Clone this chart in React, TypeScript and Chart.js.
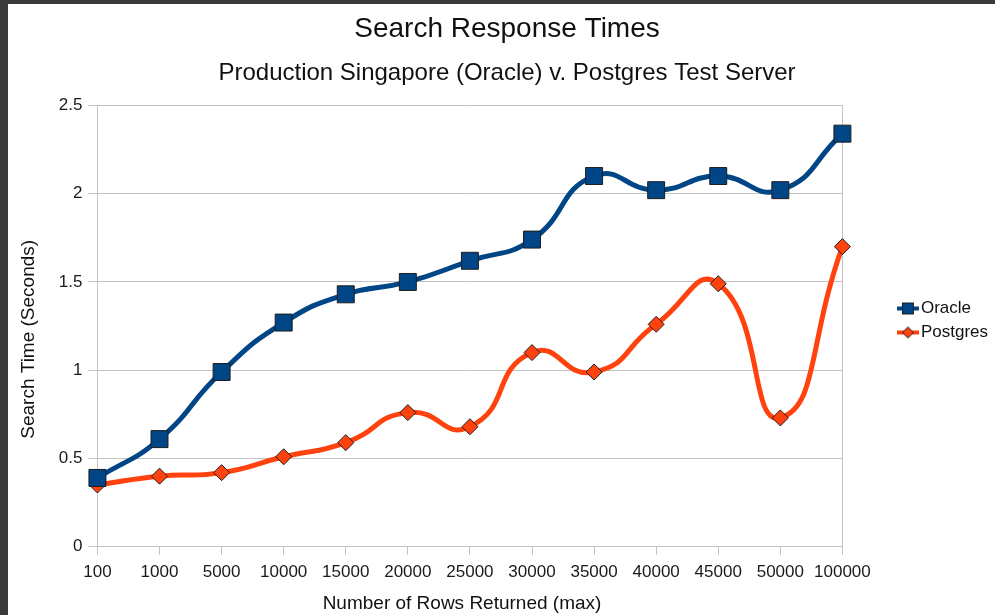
import React, { useEffect, useRef } from "react";
import { Chart, registerables } from "chart.js";

Chart.register(...registerables);

const categories = ["100", "1000", "5000", "10000", "15000", "20000", "25000", "30000", "35000", "40000", "45000", "50000", "100000"];
const oracleTimes = [0.39, 0.61, 0.99, 1.27, 1.43, 1.5, 1.62, 1.74, 2.1, 2.02, 2.1, 2.02, 2.34];
const postgresTimes = [0.35, 0.4, 0.42, 0.51, 0.59, 0.76, 0.68, 1.1, 0.99, 1.26, 1.49, 0.73, 1.7];
const seriesNames = ["Oracle", "Postgres"];
const yMin = 0;
const yMax = 2.5;
const yStep = 0.5;

const ORACLE = "#004586";
const POSTGRES = "#ff420e";
const MARKER_EDGE = "#1e1e1e";
const GRID = "#c3c3c3";
const FONT = "'Liberation Sans', Arial, sans-serif";

function makeIcon(color: string, kind: "square" | "diamond"): HTMLCanvasElement {
  const c = document.createElement("canvas");
  c.width = 22;
  c.height = 14;
  const g = c.getContext("2d")!;
  g.fillStyle = color;
  g.fillRect(0, 5, 22, 4);
  g.strokeStyle = MARKER_EDGE;
  g.lineWidth = 1;
  if (kind === "square") {
    g.fillRect(5.5, 1.5, 11, 11);
    g.strokeRect(5.5, 1.5, 11, 11);
  } else {
    g.beginPath();
    g.moveTo(11, 1.5);
    g.lineTo(16.5, 7);
    g.lineTo(11, 12.5);
    g.lineTo(5.5, 7);
    g.closePath();
    g.fill();
    g.stroke();
  }
  return c;
}

export default function App() {
  const ref = useRef<HTMLCanvasElement | null>(null);

  useEffect(() => {
    if (!ref.current) return;
    const icons = [makeIcon(ORACLE, "square"), makeIcon(POSTGRES, "diamond")];
    const chart = new Chart(ref.current, {
      type: "line",
      data: {
        labels: categories,
        datasets: [
          {
            label: seriesNames[0],
            data: oracleTimes,
            borderColor: ORACLE,
            backgroundColor: ORACLE,
            borderWidth: 5,
            tension: 0.5,
            pointStyle: "rect",
            pointRadius: 12,
            pointHoverRadius: 12,
            pointBackgroundColor: ORACLE,
            pointBorderColor: MARKER_EDGE,
            pointBorderWidth: 1,
            fill: false,
          },
          {
            label: seriesNames[1],
            data: postgresTimes,
            borderColor: POSTGRES,
            backgroundColor: POSTGRES,
            borderWidth: 5,
            tension: 0.55,
            pointStyle: "rectRot",
            pointRadius: 8,
            pointHoverRadius: 8,
            pointBackgroundColor: POSTGRES,
            pointBorderColor: MARKER_EDGE,
            pointBorderWidth: 1,
            fill: false,
          },
        ],
      },
      options: {
        animation: false,
        responsive: false,
        maintainAspectRatio: false,
        layout: { padding: { left: 8, right: 11, top: 0, bottom: 0 } },
        plugins: {
          title: {
            display: true,
            text: "Search Response Times",
            color: "#111",
            font: { family: FONT, size: 28, weight: "normal" },
            padding: { top: 8, bottom: 0 },
          },
          subtitle: {
            display: true,
            text: "Production Singapore (Oracle) v. Postgres Test Server",
            color: "#111",
            font: { family: FONT, size: 24, weight: "normal" },
            padding: { top: 13, bottom: 18 },
          },
          legend: {
            position: "right",
            title: { display: true, text: " ", font: { size: 10 }, padding: 5 },
            labels: {
              usePointStyle: true,
              pointStyleWidth: 9,
              color: "#111",
              padding: 7,
              font: { family: FONT, size: 17 },
              generateLabels: (ch: any) => {
                const base = Chart.defaults.plugins.legend.labels.generateLabels(ch);
                return base.map((it: any, i: number) => ({ ...it, pointStyle: icons[i] }));
              },
            },
          },
          tooltip: { enabled: false },
        },
        scales: {
          x: {
            type: "category",
            offset: false,
            grid: {
              display: true,
              drawOnChartArea: false,
              color: GRID,
              tickLength: 8,
            },
            border: { display: true, color: GRID, width: 1 },
            ticks: {
              autoSkip: false,
              maxRotation: 0,
              color: "#1a1a1a",
              padding: 7,
              font: { family: FONT, size: 17 },
            },
            title: {
              display: true,
              text: "Number of Rows Returned (max)   ",
              color: "#111",
              font: { family: FONT, size: 19 },
              padding: { top: 3, bottom: 0 },
            },
          },
          y: {
            type: "linear",
            min: yMin,
            max: yMax,
            grid: { color: GRID, tickLength: 9 },
            border: { display: true, color: GRID, width: 1 },
            ticks: {
              stepSize: yStep,
              color: "#1a1a1a",
              padding: 6,
              font: { family: FONT, size: 17 },
              callback: (v: any) => String(Number(v)),
            },
            title: {
              display: true,
              text: "Search Time (Seconds)     ",
              color: "#111",
              font: { family: FONT, size: 19 },
              padding: { top: 1, bottom: 13 },
            },
          },
          y2: {
            type: "linear",
            position: "right",
            min: yMin,
            max: yMax,
            grid: { display: false },
            ticks: { display: false },
            border: { display: true, color: GRID, width: 1 },
            afterFit: (s: any) => {
              s.width = 54;
            },
          },
        },
      },
    } as any);
    return () => chart.destroy();
  }, []);

  return (
    <div style={{ position: "fixed", left: 0, top: 0, width: 995, height: 615, background: "#3b3b3d", overflow: "hidden" }}>
      <div style={{ position: "absolute", left: 8, top: 4, width: 987, height: 611, background: "#ffffff", overflow: "hidden" }}>
        <canvas ref={ref} width={1001} height={611} style={{ display: "block", width: 1001, height: 611 }} />
      </div>
    </div>
  );
}
